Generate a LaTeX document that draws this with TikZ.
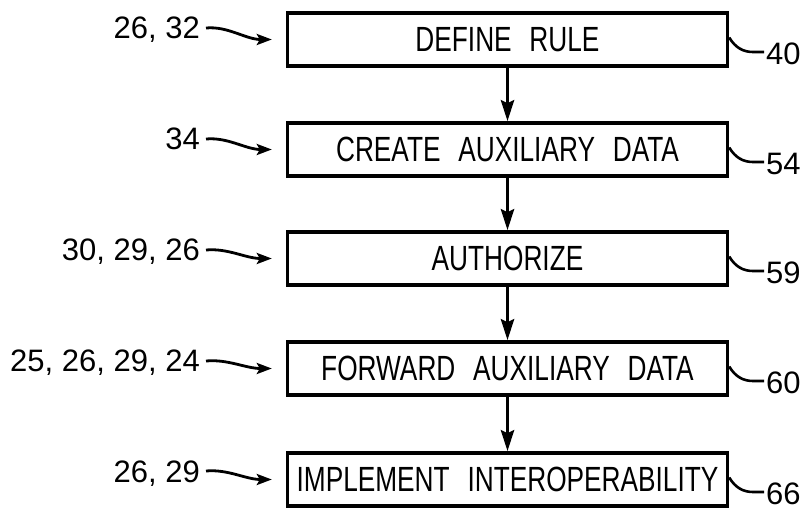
\documentclass[tikz,border=0pt]{standalone}
\usepackage{fontspec}
\setmainfont{Liberation Sans}
\newfontfamily\boxfont{Liberation Sans}[FakeStretch=0.75]
\usetikzlibrary{arrows.meta,calc}
\begin{document}
\begin{tikzpicture}[x=1pt,y=-1pt,
  stepbox/.style={draw,line width=3.4pt,minimum width=440pt,minimum height=53pt,inner sep=0pt,font=\boxfont\fontsize{35}{38}\selectfont},
  reflabel/.style={inner sep=0pt,font=\fontsize{31}{34}\selectfont},
  flow/.style={line width=3.8pt,-{Stealth[length=21pt,width=13pt,inset=3pt]}},
  pointer/.style={line width=2.8pt,-{Stealth[length=15pt,width=11pt,inset=3pt]}},
  leader/.style={line width=2.6pt}]
\useasboundingbox (0,0) rectangle (806,510);
\node[stepbox] (b1) at (507.5,39.5) {DEFINE\hspace{0.3em} RULE};
\node[stepbox] (b2) at (507.5,149.5) {CREATE\hspace{0.3em} AUXILIARY\hspace{0.3em} DATA};
\node[stepbox] (b3) at (507.5,258.5) {AUTHORIZE};
\node[stepbox] (b4) at (507.5,368.5) {FORWARD\hspace{0.3em} AUXILIARY\hspace{0.3em} DATA};
\node[stepbox] (b5) at (507.5,479.5) {IMPLEMENT\hspace{0.3em} INTEROPERABILITY};
\foreach \a/\b in {b1/b2,b2/b3,b3/b4,b4/b5}
  \draw[flow] (\a.south) -- (\b.north);
% left reference labels
\node[reflabel,anchor=base east] (l1) at (200,39) {26, 32};
\node[reflabel,anchor=base east] (l2) at (200,150) {34};
\node[reflabel,anchor=base east] (l3) at (200,261) {30, 29, 26};
\node[reflabel,anchor=base east] (l4) at (200,372) {25, 26, 29, 24};
\node[reflabel,anchor=base east] (l5) at (200,482) {26, 29};
\foreach \l/\b in {l1/b1,l2/b2,l3/b3,l4/b4,l5/b5}
  \draw[pointer] ($(\l.base east)+(6,-11)$) .. controls +(22,-2) and +(-26,0) .. ($(\b.west)+(-14,0)$);
% right reference labels
\node[reflabel,anchor=west] (r1) at (766,54) {40};
\node[reflabel,anchor=west] (r2) at (766,164) {54};
\node[reflabel,anchor=west] (r3) at (766,273) {59};
\node[reflabel,anchor=west] (r4) at (766,383) {60};
\node[reflabel,anchor=west] (r5) at (766,494) {66};
\foreach \r/\b in {r1/b1,r2/b2,r3/b3,r4/b4,r5/b5}
  \draw[leader] ($(\b.east)+(0,-2)$) .. controls +(6,10) and +(-10,0) .. ($(\r.west)+(-13,-2)$) -- ($(\r.west)+(-2,-2)$);
\end{tikzpicture}
\end{document}
